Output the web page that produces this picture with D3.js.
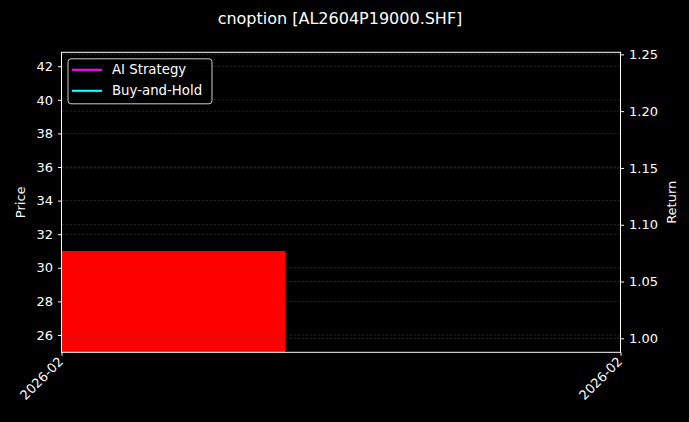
<!DOCTYPE html>
<html>
<head>
<meta charset="utf-8">
<script src="https://cdn.jsdelivr.net/npm/d3@7"></script>
<style>
  html, body { margin: 0; padding: 0; background: #000; }
  svg { display: block; font-family: "DejaVu Sans", sans-serif; }
</style>
</head>
<body>
<div id="chart"></div>
<script>
const chartTitle = 'cnoption [AL2604P19000.SHF]';
const xDomainDates = ['2026-02-02', '2026-02-12'];
const barStarts = ['2026-02-02'];
const barEnds = ['2026-02-06'];
const barValues = [31.0];
const priceDomain = [24.97, 42.83];
const priceTicks = [26, 28, 30, 32, 34, 36, 38, 40, 42];
const returnDomain = [0.9877, 1.2518];
const returnTicks = [1.00, 1.05, 1.10, 1.15, 1.20, 1.25];
const legendLabels = ['AI Strategy', 'Buy-and-Hold'];
const legendColors = ['#ff00ff', '#00ffff'];

const width = 689;
const height = 422;
const margin = { top: 52.3, right: 68.5, bottom: 69.7, left: 61.5 };
const innerW = width - margin.left - margin.right;
const innerH = height - margin.top - margin.bottom;
const parse = d3.timeParse('%Y-%m-%d');

const svg = d3.select('#chart').append('svg')
  .attr('width', width)
  .attr('height', height);

svg.append('rect').attr('width', width).attr('height', height).attr('fill', '#000');

const g = svg.append('g')
  .attr('transform', `translate(${margin.left},${margin.top})`);

const x = d3.scaleTime()
  .domain(xDomainDates.map(parse))
  .range([0, innerW]);

const yPrice = d3.scaleLinear().domain(priceDomain).range([innerH, 0]);
const yReturn = d3.scaleLinear().domain(returnDomain).range([innerH, 0]);

// bars (clipped to plot area)
svg.append('defs').append('clipPath').attr('id', 'plot-clip')
  .append('rect').attr('width', innerW).attr('height', innerH);

g.append('g').attr('clip-path', 'url(#plot-clip)')
  .selectAll('rect')
  .data(barValues)
  .join('rect')
  .attr('x', (d, i) => x(parse(barStarts[i])))
  .attr('width', (d, i) => x(parse(barEnds[i])) - x(parse(barStarts[i])))
  .attr('y', d => yPrice(d))
  .attr('height', d => innerH - yPrice(d))
  .attr('fill', '#ff0000');

// grid lines from both axes
const grid = g.append('g').attr('stroke', '#555').attr('stroke-width', 0.7)
  .attr('stroke-dasharray', '2.5,1.5').attr('opacity', 0.6);
priceTicks.forEach(t => {
  grid.append('line').attr('x1', 0).attr('x2', innerW)
    .attr('y1', yPrice(t)).attr('y2', yPrice(t));
});
returnTicks.forEach(t => {
  grid.append('line').attr('x1', 0).attr('x2', innerW)
    .attr('y1', yReturn(t)).attr('y2', yReturn(t));
});

// axes
const leftAxis = g.append('g')
  .call(d3.axisLeft(yPrice).tickValues(priceTicks).tickSize(3.5).tickPadding(5).tickFormat(d3.format('d')));
const rightAxis = g.append('g')
  .attr('transform', `translate(${innerW},0)`)
  .call(d3.axisRight(yReturn).tickValues(returnTicks).tickSize(3.5).tickPadding(5).tickFormat(d3.format('.2f')));
const bottomAxis = g.append('g')
  .attr('transform', `translate(0,${innerH})`)
  .call(d3.axisBottom(x).tickValues(xDomainDates.map(parse)).tickSize(3.5).tickFormat(d3.timeFormat('%Y-%m')));

[leftAxis, rightAxis, bottomAxis].forEach(a => {
  a.select('.domain').remove();
  a.selectAll('line').attr('stroke', '#fff');
  a.selectAll('text').attr('fill', '#fff').style('font-size', '13px').style('font-family', '"DejaVu Sans", sans-serif');
});

bottomAxis.selectAll('text')
  .attr('text-anchor', 'end')
  .attr('dy', null)
  .attr('y', 0)
  .attr('transform', 'translate(2,10) rotate(-45)');

// frame
g.append('rect')
  .attr('width', innerW).attr('height', innerH)
  .attr('fill', 'none').attr('stroke', '#fff').attr('stroke-width', 1);

// axis labels
svg.append('text')
  .attr('transform', `translate(24.5,${margin.top + innerH / 2}) rotate(-90)`)
  .attr('text-anchor', 'middle')
  .attr('fill', '#fff').style('font-size', '13px')
  .text('Price');
svg.append('text')
  .attr('transform', `translate(676,${margin.top + innerH / 2}) rotate(-90)`)
  .attr('text-anchor', 'middle')
  .attr('fill', '#fff').style('font-size', '13px')
  .text('Return');

// title
svg.append('text')
  .attr('x', 340).attr('y', 23.5)
  .attr('text-anchor', 'middle')
  .attr('fill', '#fff').style('font-size', '16px')
  .text(chartTitle);

// legend
const legend = g.append('g').attr('transform', 'translate(6.5,6.5)');
legend.append('rect')
  .attr('width', 144).attr('height', 45).attr('rx', 3)
  .attr('fill', '#000').attr('fill-opacity', 0.8)
  .attr('stroke', '#ccc').attr('stroke-width', 1);
legendLabels.forEach((label, i) => {
  const yy = 11 + i * 21;
  legend.append('line')
    .attr('x1', 4).attr('x2', 34).attr('y1', yy).attr('y2', yy)
    .attr('stroke', legendColors[i]).attr('stroke-width', 2.2);
  legend.append('text')
    .attr('x', 44).attr('y', yy).attr('dy', '0.35em')
    .attr('fill', '#fff').style('font-size', '13.3px')
    .text(label);
});
</script>
</body>
</html>
